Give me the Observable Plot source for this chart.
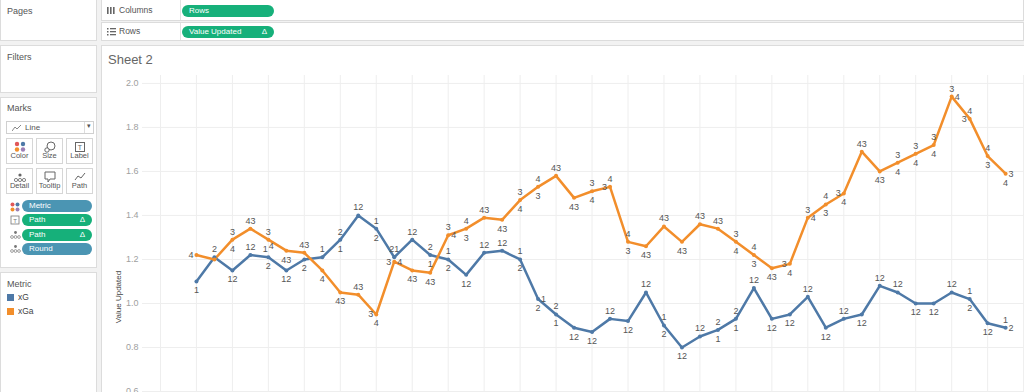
<!DOCTYPE html>
<html><head><meta charset="utf-8">
<script src="https://cdn.jsdelivr.net/npm/d3@7"></script>
<script src="https://cdn.jsdelivr.net/npm/@observablehq/plot@0.6"></script>
<style>
body{margin:0;width:1024px;height:392px;overflow:hidden;background:#f2f2f2;font-family:"Liberation Sans",Arial,sans-serif;position:relative}
.panel{position:absolute;background:#fff;border:1px solid #dcdcdc;box-sizing:border-box}
.plabel{position:absolute;left:6px;font-size:9px;color:#555}
.pill{position:absolute;height:12px;border-radius:6px;color:#fff;font-size:8px;line-height:12px;padding-left:7px;box-sizing:border-box}
.green{background:#16b07a}
.blue{background:#4b95b3}
.delta{position:absolute;right:7px;top:0;font-size:8px}
.btn{position:absolute;width:27px;height:26px;border:1px solid #d6d6d6;box-sizing:border-box;background:#fff;font-size:7.5px;color:#555;text-align:center}
.btn svg{position:absolute;left:7px;top:2px}
.btn span{position:absolute;left:0;right:0;bottom:3px}
.shelf{position:absolute;left:101px;width:923px;background:#fff;border:1px solid #dcdcdc;box-sizing:border-box}
.shelf .lab{position:absolute;left:17px;font-size:8.5px;color:#555}
.shelf .div{position:absolute;left:78px;top:0;bottom:0;border-left:1px solid #e2e2e2}
.picon{position:absolute;left:9px}
#chart{position:absolute;left:102px;top:45px}
</style></head>
<body>
<!-- left panels -->
<div class="panel" style="left:0;top:-1px;width:97px;height:42px"><div class="plabel" style="top:6px">Pages</div></div>
<div class="panel" style="left:0;top:45px;width:97px;height:48px"><div class="plabel" style="top:6px">Filters</div></div>
<div class="panel" style="left:0;top:97px;width:97px;height:171px">
  <div class="plabel" style="top:5px">Marks</div>
  <div style="position:absolute;left:5px;top:23px;width:88px;height:13px;border:1px solid #d0d0d0;box-sizing:border-box;font-size:8px;color:#555">
    <svg width="10" height="8" style="position:absolute;left:5px;top:2px"><polyline points="0,7 3,3 5,5 9,1" fill="none" stroke="#888" stroke-width="1"/></svg>
    <span style="position:absolute;left:18px;top:1px">Line</span>
    <span style="position:absolute;left:77px;top:0;bottom:0;border-left:1px solid #ddd"></span>
    <span style="position:absolute;left:80px;top:0px;font-size:7px">▾</span>
  </div>
  <div class="btn" style="left:5px;top:40px"><svg width="13" height="11"><circle cx="3" cy="3" r="2.2" fill="#e15759"/><circle cx="9" cy="3" r="2.2" fill="#4e79a7"/><circle cx="3" cy="8.5" r="2.2" fill="#f28e2b"/><circle cx="9" cy="8.5" r="2.2" fill="#9c7fb5"/></svg><span>Color</span></div>
  <div class="btn" style="left:35px;top:40px"><svg width="13" height="12"><circle cx="7" cy="5" r="4" fill="none" stroke="#666"/><circle cx="3" cy="9" r="2.2" fill="#fff" stroke="#666"/></svg><span>Size</span></div>
  <div class="btn" style="left:65px;top:40px"><svg width="13" height="12"><rect x="1.5" y="1.5" width="9" height="9" fill="none" stroke="#666"/><text x="6" y="9" font-size="7" text-anchor="middle" fill="#666">T</text></svg><span>Label</span></div>
  <div class="btn" style="left:5px;top:70px"><svg width="13" height="12"><circle cx="6" cy="4" r="1.6" fill="#666"/><circle cx="2" cy="9" r="1.6" fill="none" stroke="#666" stroke-width=".8"/><circle cx="6" cy="9" r="1.6" fill="none" stroke="#666" stroke-width=".8"/><circle cx="10" cy="9" r="1.6" fill="none" stroke="#666" stroke-width=".8"/></svg><span>Detail</span></div>
  <div class="btn" style="left:35px;top:70px"><svg width="13" height="12"><path d="M1 1H11V8H6L4 11V8H1Z" fill="none" stroke="#666"/></svg><span>Tooltip</span></div>
  <div class="btn" style="left:65px;top:70px"><svg width="13" height="12"><polyline points="1,9 4,5 7,7 11,2" fill="none" stroke="#666"/></svg><span>Path</span></div>
  <svg class="picon" width="10" height="10" style="top:104px"><circle cx="2.5" cy="2.5" r="2" fill="#e15759"/><circle cx="7.5" cy="2.5" r="2" fill="#4e79a7"/><circle cx="2.5" cy="7.5" r="2" fill="#f28e2b"/><circle cx="7.5" cy="7.5" r="2" fill="#9c7fb5"/></svg>
  <div class="pill blue" style="left:21px;top:102px;width:70px">Metric</div>
  <svg class="picon" width="10" height="10" style="top:117px"><rect x="1" y="1" width="8" height="8" fill="none" stroke="#777" stroke-width=".8"/><text x="5" y="7.5" font-size="6" text-anchor="middle" fill="#777">T</text></svg>
  <div class="pill green" style="left:21px;top:116px;width:70px">Path<span class="delta">Δ</span></div>
  <svg class="picon" width="11" height="10" style="top:132px"><circle cx="5.5" cy="2.5" r="1.4" fill="#777"/><circle cx="2" cy="7" r="1.4" fill="none" stroke="#777" stroke-width=".7"/><circle cx="5.5" cy="7" r="1.4" fill="none" stroke="#777" stroke-width=".7"/><circle cx="9" cy="7" r="1.4" fill="none" stroke="#777" stroke-width=".7"/></svg>
  <div class="pill green" style="left:21px;top:131px;width:70px">Path<span class="delta">Δ</span></div>
  <svg class="picon" width="11" height="10" style="top:146px"><circle cx="5.5" cy="2.5" r="1.4" fill="#777"/><circle cx="2" cy="7" r="1.4" fill="none" stroke="#777" stroke-width=".7"/><circle cx="5.5" cy="7" r="1.4" fill="none" stroke="#777" stroke-width=".7"/><circle cx="9" cy="7" r="1.4" fill="none" stroke="#777" stroke-width=".7"/></svg>
  <div class="pill blue" style="left:21px;top:145px;width:70px">Round</div>
</div>
<div class="panel" style="left:0;top:272px;width:97px;height:130px">
  <div class="plabel" style="top:6px">Metric</div>
  <div id="legend"></div>
</div>
<!-- shelves -->
<div class="shelf" style="top:-1px;height:22px">
  <svg width="8" height="8" style="position:absolute;left:5px;top:7px"><rect x="0" y="0" width="1.6" height="7" fill="#666"/><rect x="3" y="0" width="1.6" height="7" fill="#666"/><rect x="6" y="0" width="1.6" height="7" fill="#666"/></svg>
  <div class="lab" style="top:5px">Columns</div><div class="div"></div>
  <div class="pill green" style="left:80px;top:5px;width:92px">Rows</div>
</div>
<div class="shelf" style="top:22px;height:19px">
  <svg width="9" height="8" style="position:absolute;left:5px;top:5px"><rect x="0" y="0" width="1.5" height="1.5" fill="#666"/><rect x="3" y="0" width="6" height="1.3" fill="#666"/><rect x="0" y="3" width="1.5" height="1.5" fill="#666"/><rect x="3" y="3" width="6" height="1.3" fill="#666"/><rect x="0" y="6" width="1.5" height="1.5" fill="#666"/><rect x="3" y="6" width="6" height="1.3" fill="#666"/></svg>
  <div class="lab" style="top:3px">Rows</div><div class="div"></div>
  <div class="pill green" style="left:80px;top:3px;width:92px">Value Updated<span class="delta">Δ</span></div>
</div>
<!-- sheet -->
<div style="position:absolute;left:101px;top:45px;width:923px;height:360px;background:#fff;border-left:1px solid #dcdcdc;border-top:1px solid #dcdcdc"></div>
<div style="position:absolute;left:108px;top:52px;font-size:13px;color:#666">Sheet 2</div>
<div style="position:absolute;left:118px;top:297px;transform:translate(-50%,-50%) rotate(-90deg);font-size:8px;color:#444;white-space:nowrap">Value Updated</div>
<div id="chart"></div>
<script>
const rounds = [1,2,3,4,5,6,7,8,9,10,11,12,13,14,15,16,17,18,19,20,21,22,23,24,25,26,27,28,29,30,31,32,33,34,35,36,37,38,39,40,41,42,43,44,45,46];
const xG  = [1.10,1.21,1.15,1.22,1.21,1.15,1.20,1.21,1.29,1.40,1.34,1.21,1.29,1.22,1.20,1.13,1.23,1.24,1.20,1.02,0.95,0.89,0.87,0.93,0.92,1.05,0.90,0.80,0.85,0.88,0.93,1.07,0.93,0.95,1.03,0.89,0.93,0.95,1.08,1.05,1.00,1.00,1.05,1.02,0.91,0.89];
const xGa = [1.22,1.20,1.29,1.34,1.29,1.24,1.23,1.15,1.05,1.04,0.95,1.19,1.15,1.14,1.31,1.34,1.39,1.38,1.47,1.53,1.58,1.48,1.51,1.53,1.28,1.26,1.35,1.28,1.36,1.34,1.28,1.22,1.16,1.18,1.39,1.45,1.50,1.69,1.60,1.64,1.68,1.72,1.94,1.84,1.67,1.59];
// Path labels: ^ above, v below, < left, > right, { above-left, } below-right
const xGLabels  = ["v1","^2","v12","^12","{1 v2","v12","v2","^1","^2 v1","^12","^1 v2","^21","^12","^2 v1","^1 v2","v12","^12","^12","^1 v2",">1 v2","^2 v1","v12","v12","^12","v12","^12","^1 v2","v12","^12","^2 v1","^2 v1","^12","v12","v12","^12","v12","^12","v12","^12","^12","v12","v12","^12","^1 v2","v12","^1 >2"];
const xGaLabels = ["<4","","^3 v4","^43","^3 }4","v43","^43","v4","v43","^43","<3 v4","<3 >4","v43","v43","^3 >4","^4 v3","^43","v43","^3 v4","^4 v3","^43","v43","^3 v4","^4 <3","^4 v3","v43","^43","v43","^43","^43","^3 v4","^4 v3","v43","<3 v4","^3 >4","^4 v3","<3 v4","^43","v43","^3 v4","^3 v4","^3 v4","^3 >4","^4 <3","^4 v3",">3 v4"];
const metrics = ["xG","xGa"];
const colors = ["#4e79a7","#f28e2b"];
const yTicks = [0.6,0.8,1.0,1.2,1.4,1.6,1.8,2.0];
const xGrid = [-1,1,3,5,7,9,11,13,15,17,19,21,23,25,27,29,31,33,35,37,39,41,43,45,47];

const rows = [];
const labels = [];
const series = [[xG, xGLabels, "xG"], [xGa, xGaLabels, "xGa"]];
for (const [vals, labs, m] of series) {
  rounds.forEach((r, i) => {
    rows.push({round: r, value: vals[i], metric: m});
    for (const tok of labs[i].split(" ").filter(Boolean)) {
      labels.push({round: r, value: vals[i], metric: m, pos: tok[0], text: tok.slice(1)});
    }
  });
}
const lab = (pos, opts) => Plot.text(labels.filter(d => d.pos === pos),
  {x: "round", y: "value", text: "text", fill: "#555", fontSize: 9, ...opts});

const chart = Plot.plot({
  width: 922, height: 390,
  marginLeft: 40, marginTop: 30, marginRight: 0, marginBottom: 0,
  x: {domain: [-2, 47.05], axis: null},
  y: {domain: [0.4, 2.036]},
  color: {domain: metrics, range: colors},
  style: {fontFamily: "'Liberation Sans', Arial, sans-serif", fontSize: "9px", background: "transparent", overflow: "visible"},
  marks: [
    Plot.gridX(xGrid, {stroke: "#eeeeee", strokeOpacity: 1}),
    Plot.gridY(yTicks, {stroke: "#eeeeee", strokeOpacity: 1}),
    Plot.axisY(yTicks, {tickSize: 0, tickPadding: 4, tickFormat: d => d.toFixed(1), fill: "#a0a0a0", label: null, fontSize: 9}),
    Plot.line(rows, {x: "round", y: "value", stroke: "metric", z: "metric", strokeWidth: 2.5, strokeLinejoin: "round"}),
    Plot.dot(rows, {x: "round", y: "value", fill: "metric", r: 2}),
    lab("^", {dy: -8}),
    lab("v", {dy: 9}),
    lab("<", {dx: -3, textAnchor: "end"}),
    lab(">", {dx: 3, textAnchor: "start"}),
    lab("{", {dx: -3, dy: -8}),
    lab("}", {dx: 3, dy: 6})
  ]
});
document.getElementById("chart").appendChild(chart);

// legend built from metrics/colors
const lg = document.getElementById("legend");
metrics.forEach((m, i) => {
  const row = document.createElement("div");
  row.style.cssText = `position:absolute;left:6px;top:${20 + i * 14}px;font-size:8.5px;color:#444;line-height:9px`;
  row.innerHTML = `<span style="display:inline-block;width:7px;height:7px;background:${colors[i]};margin-right:4px;vertical-align:-1px"></span>${m}`;
  lg.appendChild(row);
});
</script>
</body></html>
